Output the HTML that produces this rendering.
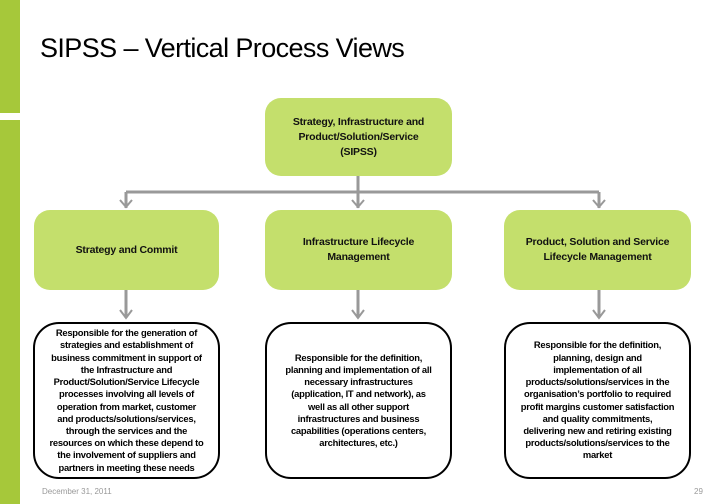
<!DOCTYPE html>
<html><head><style>
body{margin:0;width:728px;height:504px;background:#fff;position:relative;overflow:hidden;font-family:"Liberation Sans",sans-serif}
.bar{position:absolute;left:0;width:20px;background:#a6c83a}
.g{position:absolute;background:#c4df6c;border-radius:16px;display:flex;align-items:center;justify-content:center;text-align:center;font-weight:bold;font-size:10.5px;letter-spacing:-0.2px;line-height:15px;color:#111}
.w{position:absolute;border:2px solid #000;border-radius:26px;display:flex;align-items:center;justify-content:center;text-align:center;font-size:9.4px;letter-spacing:-0.25px;line-height:12.2px;color:#000;font-weight:bold;box-sizing:border-box;padding:0 4px}
.t{position:absolute;left:40px;top:33px;font-size:27px;color:#000;letter-spacing:-0.6px}
</style></head><body>
<div class="bar" style="top:0;height:113px"></div>
<div class="bar" style="top:120px;height:384px"></div>
<div class="t">SIPSS – Vertical Process Views</div>
<svg width="728" height="504" style="position:absolute;left:0;top:0" fill="none" stroke="#999" stroke-width="3">
<path d="M358 176V192M126 192H599M126 192V208M358 192V208M599 192V208"/>
<path d="M120 200l6 7 6-7M352 200l6 7 6-7M593 200l6 7 6-7" stroke-width="2"/>
<path d="M126 290V318M358 290V318M599 290V318"/>
<path d="M120 310l6 8 6-8M352 310l6 8 6-8M593 310l6 8 6-8" stroke-width="2"/>
</svg>
<div class="g" style="left:265px;top:98px;width:187px;height:78px">Strategy, Infrastructure and<br>Product/Solution/Service<br>(SIPSS)</div>
<div class="g" style="left:34px;top:210px;width:185px;height:80px">Strategy and Commit</div>
<div class="g" style="left:265px;top:210px;width:187px;height:80px">Infrastructure Lifecycle<br>Management</div>
<div class="g" style="left:504px;top:210px;width:187px;height:80px">Product, Solution and Service<br>Lifecycle Management</div>
<div class="w" style="left:33px;top:322px;width:187px;height:157px">Responsible for the generation of<br>strategies and establishment of<br>business commitment in support of<br>the Infrastructure and<br>Product/Solution/Service Lifecycle<br>processes involving all levels of<br>operation from market, customer<br>and products/solutions/services,<br>through the services and the<br>resources on which these depend to<br>the involvement of suppliers and<br>partners in meeting these needs</div>
<div class="w" style="left:265px;top:322px;width:187px;height:157px">Responsible for the definition,<br>planning and implementation of all<br>necessary infrastructures<br>(application, IT and network), as<br>well as all other support<br>infrastructures and business<br>capabilities (operations centers,<br>architectures, etc.)</div>
<div class="w" style="left:504px;top:322px;width:187px;height:157px">Responsible for the definition,<br>planning, design and<br>implementation of all<br>products/solutions/services in the<br>organisation’s portfolio to required<br>profit margins customer satisfaction<br>and quality commitments,<br>delivering new and retiring existing<br>products/solutions/services to the<br>market</div>
<div style="position:absolute;left:42px;top:487px;font-size:8px;color:#999">December 31, 2011</div>
<div style="position:absolute;left:694px;top:487px;font-size:8px;color:#999">29</div>
</body></html>
